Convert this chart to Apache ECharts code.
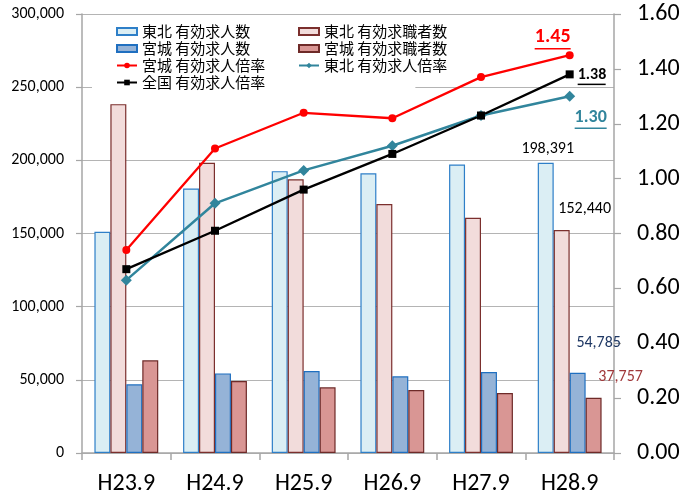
<!DOCTYPE html>
<html>
<head>
<meta charset="utf-8">
<script src="https://cdn.jsdelivr.net/npm/echarts@6/dist/echarts.min.js"></script>
<style>
  html, body { margin: 0; padding: 0; background: #fff; }
  #chart { width: 683px; height: 500px; }
</style>
</head>
<body>
<div id="chart"></div>
<script>
// Periods (September of each Heisei year)
const categories = ['H23.9', 'H24.9', 'H25.9', 'H26.9', 'H27.9', 'H28.9'];

// Job offers / job seekers (persons)
const tohokuOffers  = [151200, 180800, 192600, 191100, 197200, 198391];
const tohokuSeekers = [238400, 198300, 187000, 170100, 160700, 152440];
const miyagiOffers  = [46900, 54400, 56000, 52400, 55300, 54785];
const miyagiSeekers = [63300, 49200, 44900, 43000, 41000, 37757];

// Active job openings-to-applicants ratios
const miyagiRatio   = [0.74, 1.11, 1.24, 1.22, 1.37, 1.45];
const tohokuRatio   = [0.63, 0.91, 1.03, 1.12, 1.23, 1.30];
const nationalRatio = [0.67, 0.81, 0.96, 1.09, 1.23, 1.38];

// Axis ticks
const leftTicks  = { min: 0, max: 300000, step: 50000 };
const rightTicks = { min: 0, max: 1.6, step: 0.2 };

const NUM_FONT = 'Carlito, Lato, "Noto Sans", sans-serif';
const JP_FONT = '"Noto Sans CJK JP", "Noto Sans", sans-serif';
const AXIS_GRAY = '#a6a6a6';
const last = categories.length - 1;

// Label only the final point of a series
function lastOnly(values, labelOpt) {
  return values.map((v, i) => i === last ? { value: v, label: Object.assign({ show: true }, labelOpt) } : v);
}

// Bold ratio label with an underline drawn as a thin rich-text bar
function underlined(color, size, width) {
  return {
    fontFamily: NUM_FONT,
    formatter: p => '{t|' + p.value.toFixed(2) + '}\n{u|}',
    rich: {
      t: { color: color, fontSize: size, fontWeight: 'bold', fontFamily: NUM_FONT, lineHeight: size },
      u: { backgroundColor: color, width: width, height: 1.5, lineHeight: 3 }
    }
  };
}

const fmtThousands = v => Math.round(v).toLocaleString('en-US');

const chart = echarts.init(document.getElementById('chart'), null, { renderer: 'canvas' });

const barBase = { type: 'bar', yAxisIndex: 0, barGap: '0%', barCategoryGap: '28%' };
const lineBase = { type: 'line', yAxisIndex: 1, z: 5 };
const barLabel = (color, offset) => ({
  position: 'top', distance: 5, offset: offset,
  fontFamily: NUM_FONT, fontSize: 16, color: color, formatter: p => fmtThousands(p.value)
});

chart.setOption({
  animation: false,
  backgroundColor: '#fff',
  grid: { left: 82, right: 69, top: 14, bottom: 47, containLabel: false },
  legend: [
    {
      left: 92, top: 15, orient: 'vertical',
      padding: [9, 150, 3, 24],
      backgroundColor: '#fff',
      itemWidth: 20, itemHeight: 7, itemGap: 2,
      textStyle: { fontFamily: JP_FONT, fontSize: 15, color: '#000', lineHeight: 14.3 },
      data: [
        { name: '東北 有効求人数', icon: 'rect' },
        { name: '宮城 有効求人数', icon: 'rect' },
        '宮城 有効求人倍率',
        '全国 有効求人倍率'
      ]
    },
    {
      left: 298, top: 15, orient: 'vertical',
      padding: [9, 0, 0, 0],
      itemWidth: 20, itemHeight: 7, itemGap: 2,
      textStyle: { fontFamily: JP_FONT, fontSize: 15, color: '#000', lineHeight: 14.3 },
      data: [
        { name: '東北 有効求職者数', icon: 'rect' },
        { name: '宮城 有効求職者数', icon: 'rect' },
        '東北 有効求人倍率'
      ]
    }
  ],
  xAxis: {
    type: 'category',
    data: categories,
    boundaryGap: true,
    axisLine: { lineStyle: { color: AXIS_GRAY, width: 1.5 } },
    axisTick: { show: true, length: 7, lineStyle: { color: AXIS_GRAY, width: 1.5 } },
    axisLabel: { fontFamily: NUM_FONT, fontSize: 24, color: '#000', margin: 19 }
  },
  yAxis: [
    {
      type: 'value', position: 'left',
      min: leftTicks.min, max: leftTicks.max, interval: leftTicks.step,
      axisLine: { show: true, lineStyle: { color: AXIS_GRAY, width: 1.5 } },
      axisTick: { show: true, length: 6, lineStyle: { color: AXIS_GRAY, width: 1.2 } },
      splitLine: { show: true, lineStyle: { color: '#b4b4b4', width: 1.2 } },
      axisLabel: { fontFamily: NUM_FONT, fontSize: 16, color: '#000', margin: 18, formatter: fmtThousands }
    },
    {
      type: 'value', position: 'right',
      min: rightTicks.min, max: rightTicks.max, interval: rightTicks.step,
      axisLine: { show: true, lineStyle: { color: AXIS_GRAY, width: 1.5 } },
      axisTick: { show: true, length: 7, lineStyle: { color: AXIS_GRAY, width: 1.2 } },
      splitLine: { show: false },
      axisLabel: { fontFamily: NUM_FONT, fontSize: 24, color: '#000', margin: 23, formatter: v => v.toFixed(2) }
    }
  ],
  series: [
    Object.assign({}, barBase, {
      name: '東北 有効求人数',
      itemStyle: { color: '#dbeef4', borderColor: '#2e7fc8', borderWidth: 1.2 },
      data: lastOnly(tohokuOffers, barLabel('#000', [2, -1]))
    }),
    Object.assign({}, barBase, {
      name: '東北 有効求職者数',
      itemStyle: { color: '#f2dcdb', borderColor: '#7b2f2d', borderWidth: 1.2 },
      data: lastOnly(tohokuSeekers, barLabel('#000', [23, -8]))
    }),
    Object.assign({}, barBase, {
      name: '宮城 有効求人数',
      itemStyle: { color: '#95b3d7', borderColor: '#1f6fc0', borderWidth: 1.2 },
      data: lastOnly(miyagiOffers, barLabel('#1f3864', [21, -17]))
    }),
    Object.assign({}, barBase, {
      name: '宮城 有効求職者数',
      itemStyle: { color: '#d99694', borderColor: '#6e2a28', borderWidth: 1.2 },
      data: lastOnly(miyagiSeekers, barLabel('#a0383a', [27, -8]))
    }),
    Object.assign({}, lineBase, {
      name: '宮城 有効求人倍率',
      symbol: 'circle', symbolSize: 8,
      itemStyle: { color: '#ff0000' },
      lineStyle: { color: '#ff0000', width: 2.3 },
      data: lastOnly(miyagiRatio, Object.assign({ position: 'top', distance: 5, offset: [-17, 4] },
        underlined('#ff0000', 20, 36)))
    }),
    Object.assign({}, lineBase, {
      name: '東北 有効求人倍率',
      symbol: 'diamond', symbolSize: 11,
      itemStyle: { color: '#31859c' },
      lineStyle: { color: '#31859c', width: 2.5 },
      data: lastOnly(tohokuRatio, Object.assign({ position: 'bottom', distance: 5, offset: [21, 2] },
        underlined('#31859c', 18, 32)))
    }),
    Object.assign({}, lineBase, {
      name: '全国 有効求人倍率',
      symbol: 'rect', symbolSize: 8,
      itemStyle: { color: '#000000' },
      lineStyle: { color: '#000000', width: 2.3 },
      data: lastOnly(nationalRatio, Object.assign({ position: 'right', distance: 4, offset: [0, 2] },
        underlined('#000000', 16, 28)))
    })
  ]
});
</script>
</body>
</html>
